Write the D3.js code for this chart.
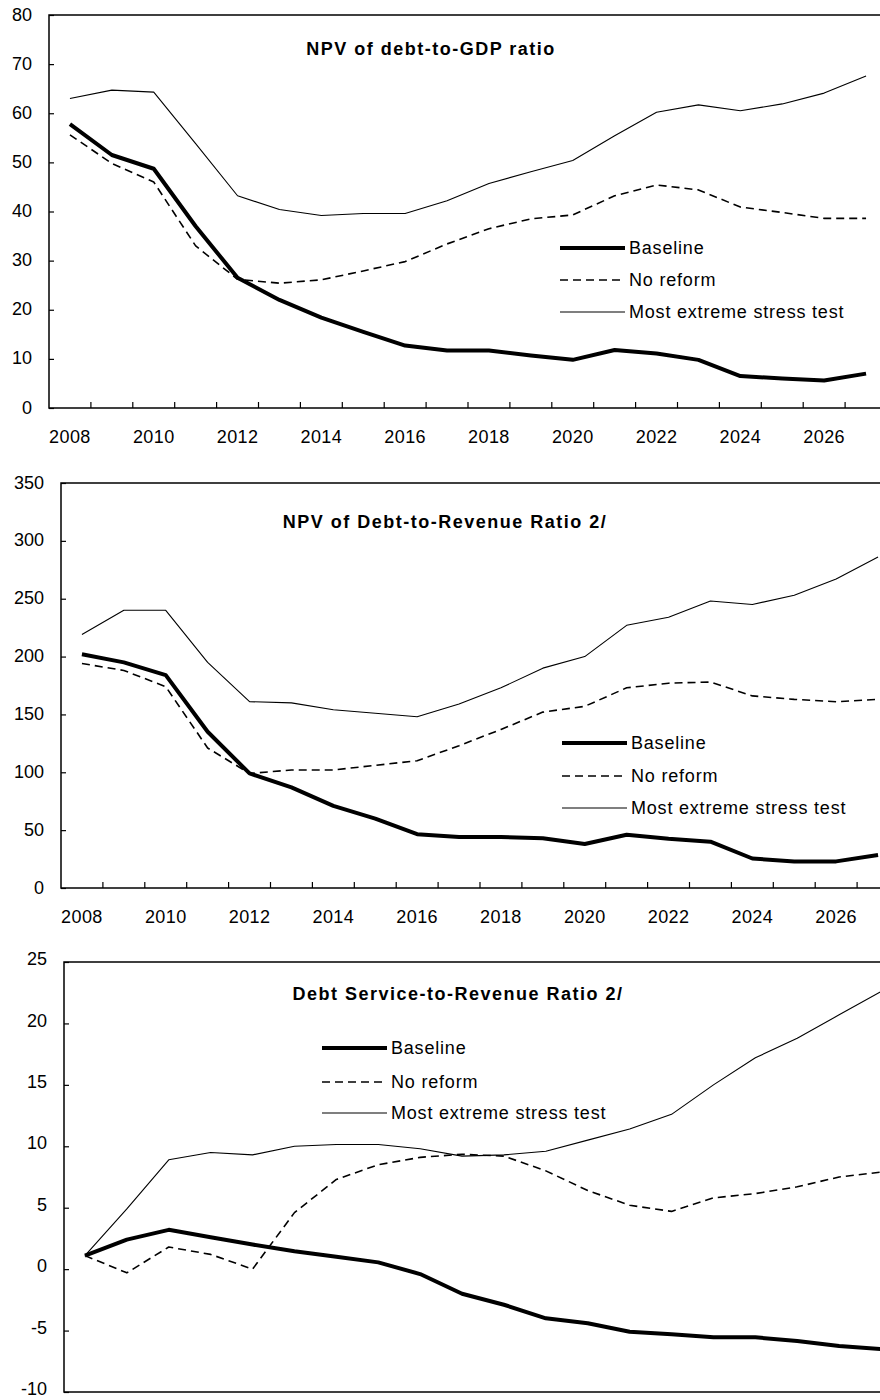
<!DOCTYPE html>
<html>
<head>
<meta charset="utf-8">
<script src="https://cdn.jsdelivr.net/npm/d3@7"></script>
<style>
	body { margin: 0; background: #fff; }
	svg { display: block; }
</style>
</head>
<body>
<div id="chart"></div>
<script>
// categories
var years = [2008, 2009, 2010, 2011, 2012, 2013, 2014, 2015, 2016, 2017,
	2018, 2019, 2020, 2021, 2022, 2023, 2024, 2025, 2026, 2027];
var seriesNames = ["Baseline", "No reform", "Most extreme stress test"];

// NPV of debt-to-GDP ratio
var gdpBaseline = [57.8, 51.5, 48.7, 37, 26.5, 22, 18.4, 15.5, 12.7, 11.7, 11.7, 10.7, 9.8, 11.8, 11.1, 9.8, 6.5, 6.0, 5.6, 7.0];
var gdpNoReform = [55.6, 49.8, 46, 33, 26.2, 25.4, 26.1, 27.9, 29.8, 33.4, 36.5, 38.5, 39.3, 43.2, 45.4, 44.4, 40.9, 39.8, 38.6, 38.6];
var gdpStress = [63.0, 64.7, 64.3, 53.8, 43.2, 40.4, 39.2, 39.6, 39.6, 42.2, 45.7, 48.1, 50.4, 55.4, 60.2, 61.7, 60.5, 61.9, 64.1, 67.6];
var gdpTicks = [0, 10, 20, 30, 40, 50, 60, 70, 80];

// NPV of debt-to-revenue ratio
var revBaseline = [202, 195, 184, 135, 99, 87, 71, 60, 46.5, 44, 44, 43, 38, 46, 42.5, 40, 25.5, 23, 23, 28.5];
var revNoReform = [194, 188, 174, 121, 99, 102, 102, 106, 110, 123, 137, 152, 157, 173, 177, 178, 166, 163, 161, 163];
var revStress = [219, 240, 240, 195, 161, 160, 154, 151, 148, 159, 173, 190, 200, 227, 234, 248, 245, 253, 267, 286];
var revTicks = [0, 50, 100, 150, 200, 250, 300, 350];

// Debt service-to-revenue ratio
var dsBaseline = [1.1, 2.4, 3.2, 2.6, 2.0, 1.45, 1.0, 0.55, -0.4, -2.0, -2.9, -4.0, -4.4, -5.1, -5.3, -5.55, -5.55, -5.85, -6.25, -6.5];
var dsNoReform = [1.1, -0.3, 1.8, 1.2, 0.0, 4.6, 7.3, 8.5, 9.1, 9.35, 9.2, 8.0, 6.4, 5.2, 4.7, 5.8, 6.15, 6.7, 7.5, 7.9];
var dsStress = [1.1, 4.9, 8.9, 9.5, 9.3, 10.0, 10.15, 10.15, 9.8, 9.2, 9.3, 9.6, 10.5, 11.4, 12.6, 15.0, 17.2, 18.8, 20.7, 22.6];
var dsTicks = [-10, -5, 0, 5, 10, 15, 20, 25];

var lineStyles = [
	{width: 4, dash: null},
	{width: 1.6, dash: "8,5"},
	{width: 1.1, dash: null}
];

var svg = d3.select("#chart").append("svg")
	.attr("width", 880)
	.attr("height", 1400)
	.style("font-family", "'Liberation Sans', Arial, sans-serif");

function drawPanel(cfg) {
	var bandW = 41.9;
	var x = d3.scaleBand()
		.domain(years)
		.range([cfg.left, cfg.left + bandW * years.length]);
	var y = d3.scaleLinear()
		.domain([cfg.ticks[0], cfg.ticks[cfg.ticks.length - 1]])
		.range([cfg.bottom, cfg.top]);

	var g = svg.append("g");

	// plot frame (right side runs off the page)
	g.append("rect")
		.attr("x", cfg.left)
		.attr("y", cfg.top)
		.attr("width", x.range()[1] - cfg.left)
		.attr("height", cfg.bottom - cfg.top)
		.attr("fill", "none")
		.attr("stroke", "#000")
		.attr("stroke-width", 1.5);

	var yAxis = d3.axisLeft(y)
		.tickValues(cfg.ticks)
		.tickSize(-5)
		.tickPadding(17)
		.tickFormat(d => String(d));
	var ya = g.append("g")
		.attr("transform", "translate(" + cfg.left + ",0)")
		.call(yAxis);
	ya.select(".domain").remove();
	ya.selectAll("line").attr("stroke", "#000").attr("stroke-width", 1.2);
	ya.selectAll("text")
		.attr("font-size", "18px")
		.attr("fill", "#000")
		.attr("dy", cfg.labelDy || "0.28em")
		.style("font-family", "'Liberation Sans', Arial, sans-serif");

	if (cfg.xLabels) {
		var xAxis = d3.axisBottom(x)
			.tickValues(years.filter(d => d % 2 == 0))
			.tickSize(0)
			.tickPadding(22);
		var xa = g.append("g")
			.attr("transform", "translate(0," + cfg.bottom + ")")
			.call(xAxis);
		xa.select(".domain").remove();
		xa.selectAll("text")
			.attr("font-size", "18px")
			.attr("fill", "#000")
			.attr("letter-spacing", "0.4px")
			.style("font-family", "'Liberation Sans', Arial, sans-serif");

		// boundary tick marks between categories
		g.selectAll(".bTick")
			.data(years.slice(1))
			.enter()
			.append("line")
				.attr("x1", d => x(d))
				.attr("x2", d => x(d))
				.attr("y1", cfg.bottom)
				.attr("y2", cfg.bottom - 6)
				.attr("stroke", "#000")
				.attr("stroke-width", 1.2);
	}

	// title
	g.append("text")
		.attr("x", cfg.titleX)
		.attr("y", cfg.titleY)
		.attr("text-anchor", "middle")
		.attr("font-size", "18px")
		.attr("font-weight", "bold")
		.attr("letter-spacing", "1.5px")
		.text(cfg.title);

	var line = d3.line()
		.x((d, i) => x(years[i]) + x.bandwidth() / 2)
		.y(d => y(d));

	// draw stress first, baseline on top
	for (var s = cfg.series.length - 1; s >= 0; s--) {
		g.append("path")
			.datum(cfg.series[s])
			.attr("d", line)
			.attr("fill", "none")
			.attr("stroke", "#000")
			.attr("stroke-width", lineStyles[s].width)
			.attr("stroke-dasharray", lineStyles[s].dash)
			.attr("stroke-linejoin", "round");
	}

	// legend
	for (var k = 0; k < seriesNames.length; k++) {
		var ly = cfg.legendY[k];
		g.append("line")
			.attr("x1", cfg.legendX)
			.attr("x2", cfg.legendX + 65)
			.attr("y1", ly)
			.attr("y2", ly)
			.attr("stroke", "#000")
			.attr("stroke-width", lineStyles[k].width)
			.attr("stroke-dasharray", lineStyles[k].dash);
		g.append("text")
			.attr("x", cfg.legendX + 69)
			.attr("y", ly)
			.attr("dy", "0.35em")
			.attr("font-size", "18px")
			.attr("letter-spacing", "0.8px")
			.text(seriesNames[k]);
	}
}

drawPanel({
	title: "NPV of debt-to-GDP ratio",
	series: [gdpBaseline, gdpNoReform, gdpStress],
	ticks: gdpTicks,
	left: 49, top: 15, bottom: 408,
	xLabels: true,
	titleX: 431, titleY: 55,
	legendX: 560, legendY: [248, 280, 312]
});

drawPanel({
	title: "NPV of Debt-to-Revenue Ratio 2/",
	series: [revBaseline, revNoReform, revStress],
	ticks: revTicks,
	left: 61, top: 483, bottom: 888,
	xLabels: true,
	titleX: 445, titleY: 528,
	legendX: 562, legendY: [743, 776, 808]
});

drawPanel({
	title: "Debt Service-to-Revenue Ratio 2/",
	series: [dsBaseline, dsNoReform, dsStress],
	ticks: dsTicks,
	left: 64, top: 962, bottom: 1392,
	xLabels: false,
	labelDy: "0.15em",
	titleX: 458, titleY: 1000,
	legendX: 322, legendY: [1048, 1082, 1113]
});
</script>
</body>
</html>
